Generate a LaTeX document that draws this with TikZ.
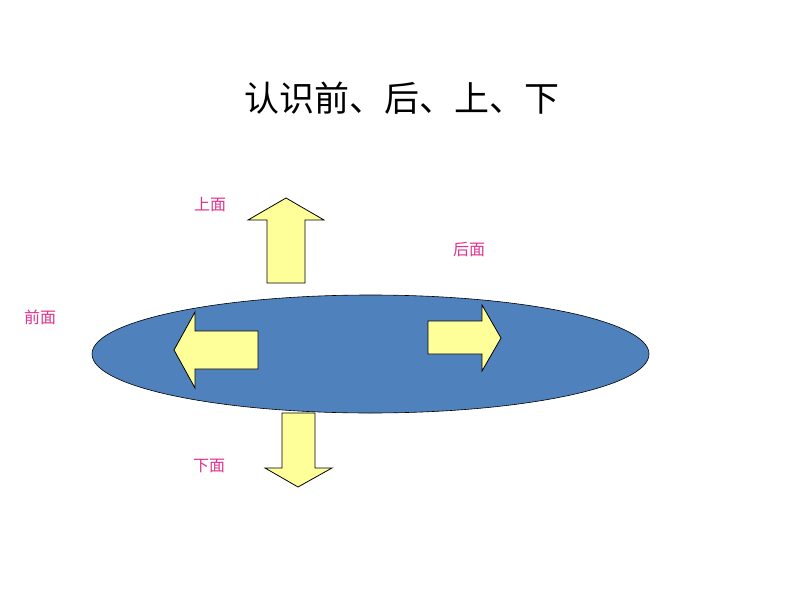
\documentclass[tikz,border=0pt]{standalone}
\usepackage{fontspec}
\usetikzlibrary{shapes.geometric}
\newfontfamily\cjk{Noto Sans CJK SC}
\definecolor{ellblue}{HTML}{4F81BD}
\definecolor{arrowyellow}{HTML}{FFFF99}
\definecolor{labelpink}{HTML}{E0338C}
\begin{document}
\begin{tikzpicture}[x=1pt,y=-1pt,
  arrowshape/.style={draw=black,fill=arrowyellow,line width=0.8pt,line join=miter},
  lbl/.style={text=labelpink,font=\cjk\fontsize{16}{18}\selectfont,inner sep=0pt}]
\useasboundingbox (0,0) rectangle (794,596);
\fill[white] (0,0) rectangle (794,596);
\node[font=\cjk\fontsize{35}{40}\selectfont,inner sep=0pt] (title) at (402,98) {认识前、后、上、下};
% ellipse
\node[draw=black,fill=ellblue,line width=0.6pt,ellipse,minimum width=557pt,minimum height=118pt,inner sep=0pt] (disc) at (370.5,354) {};
% up arrow
\draw[arrowshape] (267,283) -- (267,220) -- (248,220) -- (286,198) -- (324,220) -- (305,220) -- (305,283) -- cycle;
% left arrow
\draw[arrowshape] (258,331) -- (195,331) -- (195,312) -- (174,350) -- (195,388) -- (195,369) -- (258,369) -- cycle;
% right arrow
\draw[arrowshape] (428,321) -- (482,321) -- (482,305) -- (501,338) -- (482,371) -- (482,354) -- (428,354) -- cycle;
% down arrow
\draw[arrowshape] (282,413) -- (282,468) -- (265,468) -- (298,487) -- (332,468) -- (315,468) -- (315,413) -- cycle;
% labels
\node[lbl] (top) at (210,205) {上面};
\node[lbl] (back) at (469,249) {后面};
\node[lbl] (front) at (40,317) {前面};
\node[lbl] (bottom) at (209,466) {下面};
\end{tikzpicture}
\end{document}
